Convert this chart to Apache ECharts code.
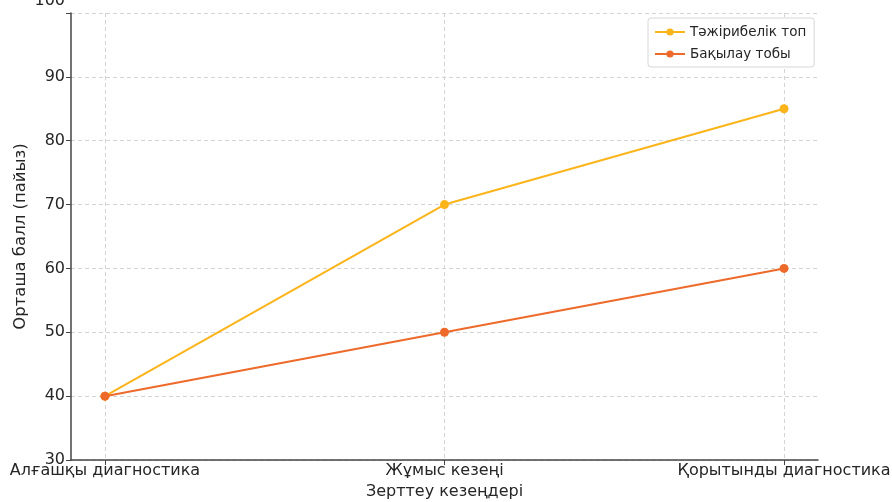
<!DOCTYPE html>
<html>
<head>
<meta charset="utf-8">
<script src="https://cdn.jsdelivr.net/npm/echarts@6/dist/echarts.min.js"></script>
<style>
  html, body { margin: 0; padding: 0; background: #fff; }
  #chart { width: 892px; height: 502px; }
</style>
</head>
<body>
<div id="chart"></div>
<script>
// Study stages and average scores (percent) for both groups
const stages = ['Алғашқы диагностика', 'Жұмыс кезеңі', 'Қорытынды диагностика'];
const experimentalGroup = [40, 70, 85];
const controlGroup = [40, 50, 60];
const seriesNames = ['Тәжірибелік топ', 'Бақылау тобы'];
const yTicks = [30, 40, 50, 60, 70, 80, 90, 100];

const FONT = 'DejaVu Sans';
const TEXT = '#262626';
const toPoints = vals => vals.map((v, i) => [i, v]);

const chart = echarts.init(document.getElementById('chart'), null, { renderer: 'canvas' });

chart.setOption({
  animation: false,
  backgroundColor: '#ffffff',
  grid: { left: 71, right: 74, top: 13, bottom: 42, containLabel: false, outerBoundsMode: 'none' },
  legend: {
    orient: 'vertical',
    left: 648,
    top: 18,
    padding: [7, 8, 6, 6],
    itemGap: 8,
    itemWidth: 30,
    itemHeight: 9,
    backgroundColor: '#ffffff',
    borderColor: '#d6d6d6',
    borderWidth: 1,
    borderRadius: 3,
    textStyle: { fontFamily: FONT, fontSize: 13.5, color: TEXT },
    data: seriesNames
  },
  xAxis: {
    type: 'value',
    min: -0.1,
    max: 2.1,
    name: 'Зерттеу кезеңдері',
    nameLocation: 'middle',
    nameMoveOverlap: false,
    nameGap: 24,
    nameTextStyle: { fontFamily: FONT, fontSize: 16, color: TEXT },
    axisLine: { show: true, onZero: false, lineStyle: { color: '#444444', width: 1.5 } },
    axisTick: { show: true, customValues: [0, 1, 2], length: 5, lineStyle: { color: '#444444', width: 1 } },
    axisLabel: {
      customValues: [0, 1, 2],
      margin: 3,
      fontFamily: FONT,
      fontSize: 16,
      color: TEXT,
      formatter: v => stages[Math.round(v)]
    },
    splitLine: { show: true, lineStyle: { color: '#d4d4d4', type: [4, 3], width: 1 } }
  },
  yAxis: {
    type: 'value',
    min: yTicks[0],
    max: yTicks[yTicks.length - 1],
    interval: 10,
    name: 'Орташа балл (пайыз)',
    nameLocation: 'middle',
    nameMoveOverlap: false,
    nameGap: 42,
    nameRotate: 90,
    nameTextStyle: { fontFamily: FONT, fontSize: 16.5, color: TEXT },
    axisLine: { show: true, onZero: false, lineStyle: { color: '#444444', width: 1.5 } },
    axisTick: { show: true, length: 5, lineStyle: { color: '#444444', width: 1 } },
    axisLabel: {
      margin: 6,
      fontFamily: FONT,
      fontSize: 16,
      color: TEXT,
      formatter: v => (v === 100 ? '{top|' + v + '}' : String(v)),
      rich: { top: { fontFamily: FONT, fontSize: 16, color: TEXT, padding: [0, 0, 24, 0] } }
    },
    splitLine: { show: true, lineStyle: { color: '#d4d4d4', type: [4, 3], width: 1 } }
  },
  series: [
    {
      name: seriesNames[0],
      type: 'line',
      data: toPoints(experimentalGroup),
      symbol: 'circle',
      symbolSize: 9,
      itemStyle: { color: '#FBB41A' },
      lineStyle: { color: '#FBB41A', width: 2 },
      z: 3
    },
    {
      name: seriesNames[1],
      type: 'line',
      data: toPoints(controlGroup),
      symbol: 'circle',
      symbolSize: 9,
      itemStyle: { color: '#EE6A2A' },
      lineStyle: { color: '#EE6A2A', width: 2 },
      z: 4
    }
  ]
});
</script>
</body>
</html>
